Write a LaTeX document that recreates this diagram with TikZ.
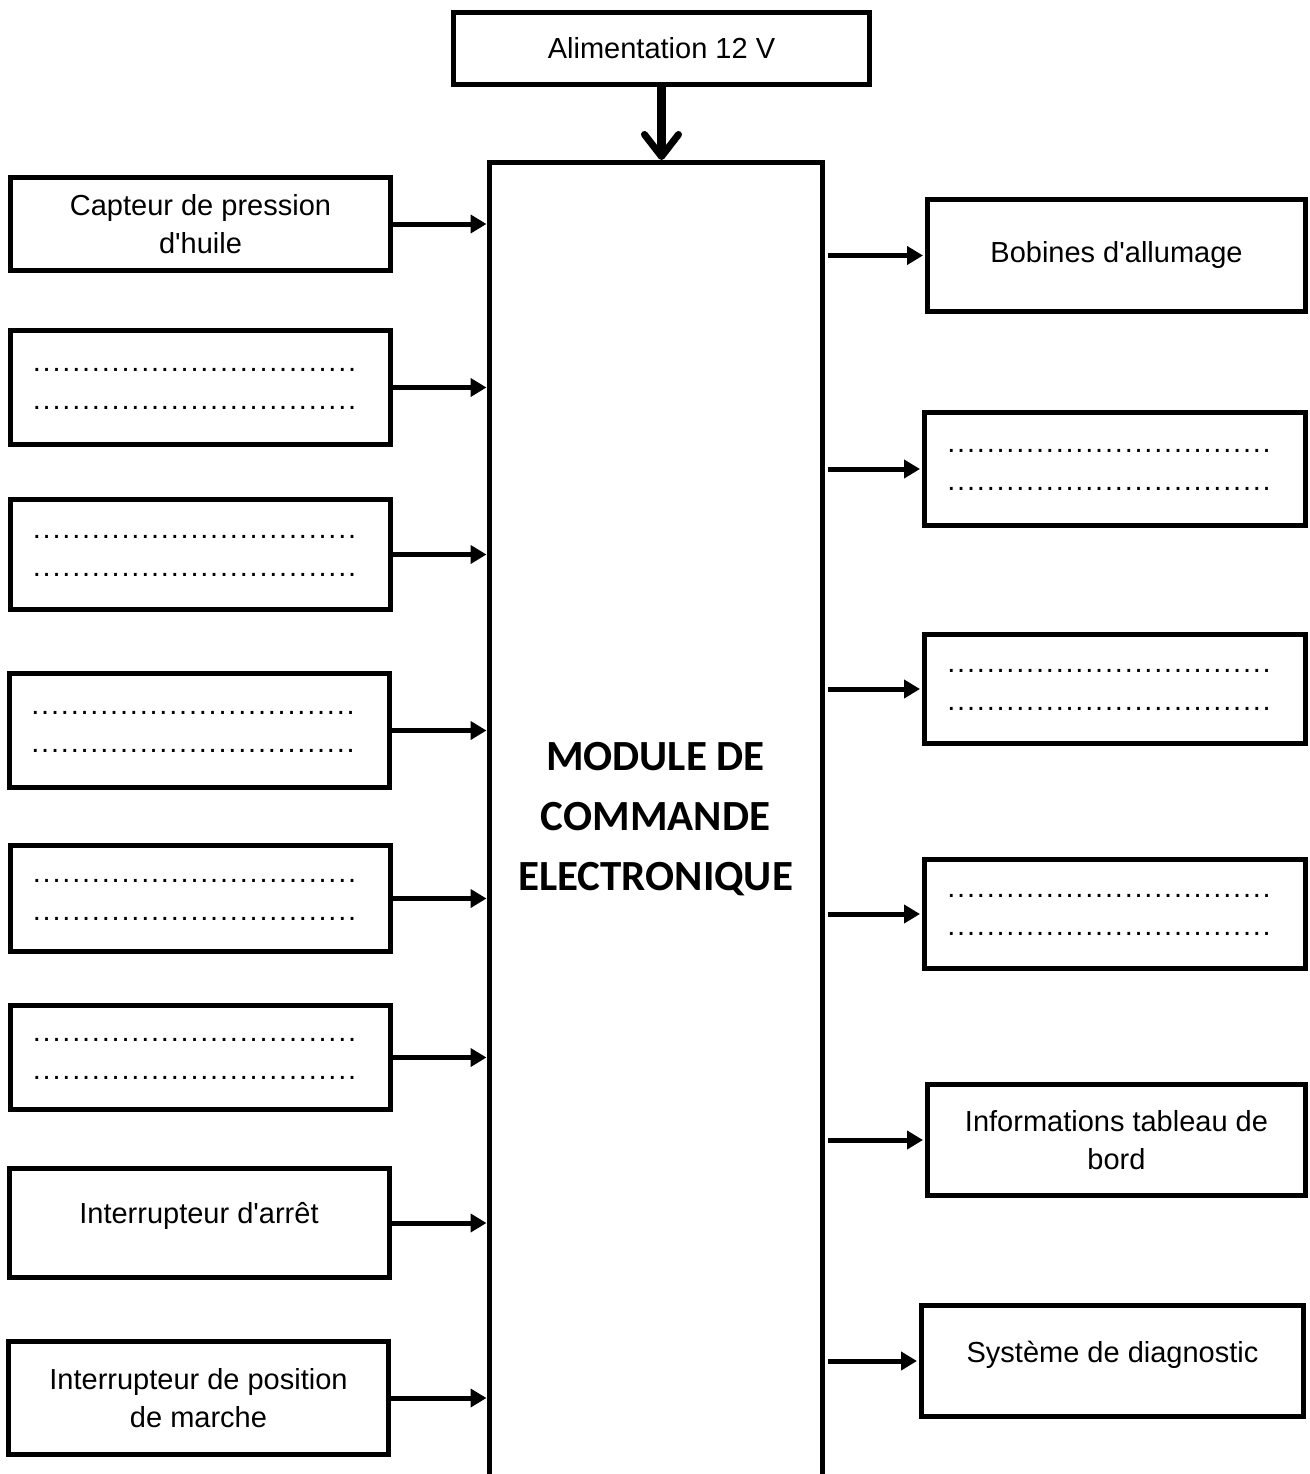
\documentclass[tikz,border=0pt]{standalone}
\usepackage{fontspec}
\setmainfont{Liberation Sans}[Ligatures=TeXOff]
\newfontfamily\calib{Carlito}
\usetikzlibrary{arrows.meta}
\newcommand\dd{\makebox[9.85pt]{.}}
\newcommand\dthree{\dd\dd\dd}
\newcommand\dotrow{\raisebox{-5pt}{\dthree\dthree\dthree\dthree\dthree\dthree\dthree\dthree\dthree\dthree\dthree}\kern12pt}
\begin{document}
\begin{tikzpicture}[x=1pt,y=-1pt,
  box/.style={draw, line width=5pt, inner sep=0pt, align=center,
    font=\fontsize{29}{38}\selectfont},
  lbox/.style={box, minimum width=380pt},
  rbox/.style={box, minimum width=380pt},
  arr/.style={line width=5pt, -{Triangle[length=16pt,width=18pt]}},
]
\useasboundingbox (0,0) rectangle (1309,1474);
\fill[white] (0,0) rectangle (1309,1474);

% power supply
\node[box, minimum width=416pt, minimum height=72pt] (alim) at (661.5,48.5) {Alimentation 12 V};

% central module (bottom edge outside the page)
\node[draw, line width=5pt, inner sep=0pt, minimum width=333pt, minimum height=1400pt, anchor=north] (ecu) at (655.5,160) {};
\node[font=\calib\bfseries\fontsize{43}{60}\selectfont, align=center] (ecutxt) at (655.5,819) {MODULE DE\\COMMANDE\\ELECTRONIQUE};

% left boxes
\node[lbox, minimum height=93pt] (L1) at (200.5,224) {Capteur de pression\\d'huile};
\node[lbox, minimum height=114pt] (L2) at (200.5,387.5) {\dotrow\\\dotrow};
\node[lbox, minimum height=110pt] (L3) at (200.5,554.5) {\dotrow\\\dotrow};
\node[lbox, minimum height=114pt] (L4) at (199,730.5) {\dotrow\\\dotrow};
\node[lbox, minimum height=106pt] (L5) at (200.5,898.5) {\dotrow\\\dotrow};
\node[lbox, minimum height=104pt] (L6) at (200.5,1057.5) {\dotrow\\\dotrow};
\node[lbox, minimum height=109pt] (L7) at (199,1223) {\raisebox{21pt}{Interrupteur d'arrêt}};
\node[lbox, minimum height=113pt] (L8) at (198.5,1398) {Interrupteur de position\\de marche};

% right boxes
\node[rbox, minimum width=378pt, minimum height=112pt] (R1) at (1116.5,255.5) {\raisebox{3pt}{Bobines d'allumage}};
\node[rbox, minimum width=381pt, minimum height=113pt] (R2) at (1115,469) {\dotrow\\\dotrow};
\node[rbox, minimum width=381pt, minimum height=109pt] (R3) at (1115,689) {\dotrow\\\dotrow};
\node[rbox, minimum width=381pt, minimum height=109pt] (R4) at (1115,914) {\dotrow\\\dotrow};
\node[rbox, minimum width=378pt, minimum height=111pt] (R5) at (1116.5,1140) {Informations tableau de\\bord};
\node[rbox, minimum width=382pt, minimum height=111pt] (R6) at (1112.5,1361) {\raisebox{18pt}{Système de diagnostic}};

% top arrow
\draw[line width=9pt, -{Straight Barb[length=22pt,width=34pt,line width=7pt,round]}]
  (alim.south) -- (alim.south |- ecu.north);

% input arrows
\foreach \n in {L1,L2,L3,L4,L5,L6,L7,L8}
  \draw[arr] (\n.east) -- (\n.east -| ecu.west);

% output arrows
\foreach \n in {R1,R2,R3,R4,R5,R6}
  \draw[arr] ([xshift=3pt]ecu.east |- \n.west) -- ([xshift=-2pt]\n.west);
\end{tikzpicture}
\end{document}
